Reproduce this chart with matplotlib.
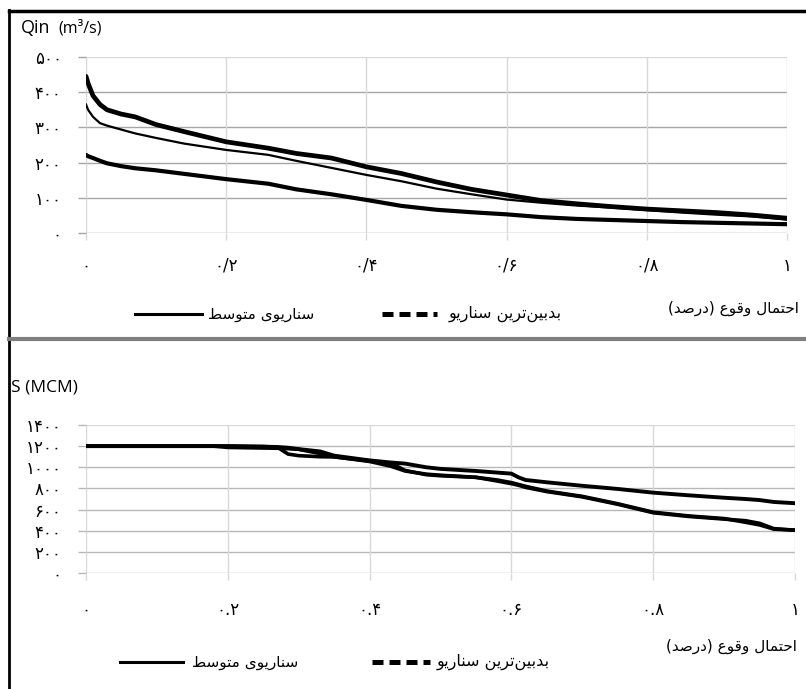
import matplotlib
matplotlib.use("Agg")
import matplotlib.pyplot as plt
from matplotlib.lines import Line2D

# ---------------- data ----------------
q_x = [0, 0.003, 0.01, 0.02, 0.03, 0.05, 0.07, 0.1, 0.14, 0.2, 0.26, 0.3, 0.35, 0.4,
       0.45, 0.5, 0.55, 0.6, 0.65, 0.7, 0.75, 0.8, 0.85, 0.9, 0.95, 1.0]
q_upper = [445, 425, 390, 365, 350, 338, 330, 308, 288, 259, 241, 226, 213, 188,
           169, 145, 124, 108, 92, 83, 75, 68, 63, 58, 51, 42]
q_middle = [365, 350, 330, 312, 305, 294, 283, 270, 254, 236, 222, 205, 185, 165,
            147, 126, 110, 95, 86, 78, 72, 65, 58, 52, 47, 38]
q_lower = [222, 218, 213, 205, 198, 190, 184, 178, 168, 153, 140, 124, 110, 94,
           77, 66, 59, 53, 45, 40, 37, 34, 31, 29, 27, 25]

s_x = [0, 0.18, 0.2, 0.25, 0.27, 0.285, 0.3, 0.33, 0.35, 0.4, 0.43, 0.45, 0.48, 0.5,
       0.55, 0.58, 0.6, 0.61, 0.62, 0.65, 0.7, 0.75, 0.8, 0.85, 0.9, 0.93, 0.95, 0.97, 1.0]
s_a = [1200, 1200, 1200, 1195, 1192, 1185, 1172, 1150, 1110, 1065, 1045, 1035, 1000, 985,
       965, 950, 940, 905, 880, 858, 825, 795, 760, 735, 712, 700, 690, 672, 660]
s_b = [1200, 1200, 1188, 1182, 1180, 1176, 1170, 1130, 1100, 1055, 1010, 965, 935, 925,
       905, 870, 845, 830, 810, 770, 720, 650, 570, 535, 510, 495, 470, 420, 405]
s_c = [1200, 1200, 1200, 1196, 1190, 1125, 1110, 1100, 1098, 1060, 1040, 970, 930, 920,
       905, 880, 855, 838, 820, 775, 725, 655, 575, 540, 515, 480, 455, 415, 405]

q_yticks = [0, 100, 200, 300, 400, 500]
q_ylabels = ['۰', '۱۰۰', '۲۰۰', '۳۰۰', '۴۰۰', '۵۰۰']
q_xticks = [0, 0.2, 0.4, 0.6, 0.8, 1.0]
q_xlabels = ['۰', '۰/۲', '۰/۴', '۰/۶', '۰/۸', '۱']
s_yticks = [0, 200, 400, 600, 800, 1000, 1200, 1400]
s_ylabels = ['۰', '۲۰۰', '۴۰۰', '۶۰۰', '۸۰۰', '۱۰۰۰', '۱۲۰۰', '۱۴۰۰']
s_xticks = [0, 0.2, 0.4, 0.6, 0.8, 1.0]
s_xlabels = ['۰', '۰.۲', '۰.۴', '۰.۶', '۰.۸', '۱']

label_avg = 'سناریوی متوسط'
label_worst = 'بدبین\u200cترین سناریو'
label_x = 'احتمال وقوع (درصد)'

# ---------------- minimal Persian shaping (matplotlib has no bidi) ----------------
FORMS = {
    'ا': ('\uFE8D', '\uFE8E', None, None),
    'ب': ('\uFE8F', '\uFE90', '\uFE91', '\uFE92'),
    'ت': ('\uFE95', '\uFE96', '\uFE97', '\uFE98'),
    'ح': ('\uFEA1', '\uFEA2', '\uFEA3', '\uFEA4'),
    'د': ('\uFEA9', '\uFEAA', None, None),
    'ر': ('\uFEAD', '\uFEAE', None, None),
    'س': ('\uFEB1', '\uFEB2', '\uFEB3', '\uFEB4'),
    'ص': ('\uFEB9', '\uFEBA', '\uFEBB', '\uFEBC'),
    'ط': ('\uFEC1', '\uFEC2', '\uFEC3', '\uFEC4'),
    'ع': ('\uFEC9', '\uFECA', '\uFECB', '\uFECC'),
    'ق': ('\uFED5', '\uFED6', '\uFED7', '\uFED8'),
    'ل': ('\uFEDD', '\uFEDE', '\uFEDF', '\uFEE0'),
    'م': ('\uFEE1', '\uFEE2', '\uFEE3', '\uFEE4'),
    'ن': ('\uFEE5', '\uFEE6', '\uFEE7', '\uFEE8'),
    'و': ('\uFEED', '\uFEEE', None, None),
    'ی': ('\uFBFC', '\uFBFD', '\uFBFE', '\uFBFF'),
}


def fa(s):
    out = []
    n = len(s)
    for i, ch in enumerate(s):
        if ch not in FORMS:
            out.append(ch)
            continue
        f = FORMS[ch]
        prev = s[i - 1] if i > 0 else None
        nxt = s[i + 1] if i < n - 1 else None
        jp = prev in FORMS and FORMS[prev][2] is not None
        jn = nxt in FORMS and f[2] is not None
        if jp and jn:
            out.append(f[3])
        elif jp:
            out.append(f[1])
        elif jn:
            out.append(f[2])
        else:
            out.append(f[0])
    vis = ''.join(out).replace('\u200c', '')[::-1]
    return vis.translate(str.maketrans('()', ')('))


# ---------------- figure ----------------
W, H = 806, 689
fig = plt.figure(figsize=(W / 100, H / 100), dpi=100)
FONT = 'DejaVu Sans'


def fx(px):
    return px / W


def fy(py):
    return 1 - py / H


def axes_px(l, r, t, b):
    return fig.add_axes([fx(l), fy(b), fx(r) - fx(l), fy(t) - fy(b)])


HGRID = '#a6a6a6'
VGRID = '#d9d9d9'


def style(ax, xt, xl, yt, yl, ymax, xpad, hcol):
    ax.set_xlim(0, 1)
    ax.set_ylim(0, ymax)
    for sp in ax.spines.values():
        sp.set_visible(False)
    ax.set_xticks(xt)
    ax.set_xticklabels(xl, fontsize=12, family=FONT)
    ax.set_yticks(yt)
    ax.set_yticklabels(yl, fontsize=12, family=FONT)
    ax.tick_params(axis='x', length=5, color=VGRID, pad=xpad, width=1)
    ax.tick_params(axis='y', length=5.5, color=hcol, pad=12, width=1)
    for v in yt:
        ax.axhline(v, color=hcol if v < ymax else VGRID, lw=1, zorder=0)
    for v in xt:
        ax.axvline(v, color=VGRID, lw=1, zorder=0)


# top panel
ax1 = axes_px(86, 787, 57, 233)
style(ax1, q_xticks, q_xlabels, q_yticks, q_ylabels, 500, 12, HGRID)
ax1.plot(q_x, q_upper, color='black', lw=3.4, solid_capstyle='round', solid_joinstyle='round')
ax1.plot(q_x, q_middle, color='black', lw=1.6, solid_joinstyle='round')
ax1.plot(q_x, q_lower, color='black', lw=3.0, solid_capstyle='round', solid_joinstyle='round')

# bottom panel
ax2 = axes_px(86, 795, 425, 573)
style(ax2, s_xticks, s_xlabels, s_yticks, s_ylabels, 1400, 15, '#b8b8b8')
ax2.plot(s_x, s_a, color='black', lw=2.8, solid_joinstyle='round')
ax2.plot(s_x, s_b, color='black', lw=2.6, solid_joinstyle='round')
ax2.plot(s_x, s_c, color='black', lw=2.6, solid_joinstyle='round')

# axis titles
fig.text(fx(21), fy(28), 'Qin', fontsize=13, family='Open Sans', va='center', ha='left')
fig.text(fx(58), fy(28), '(m³/s)', fontsize=11.5, family='Open Sans', va='center', ha='left')
fig.text(fx(11), fy(387), 'S (MCM)', fontsize=12.5, family='Open Sans', va='center', ha='left')


# legends (figure-level)
def legend_row(y_line, y_xlab, solid_x, dash_x, txt1_x, txt2_x, xlab_r):
    fig.add_artist(Line2D([fx(solid_x[0]), fx(solid_x[1])], [fy(y_line), fy(y_line)],
                          color='black', lw=2.2, transform=fig.transFigure))
    fig.add_artist(Line2D([fx(dash_x[0]), fx(dash_x[1])], [fy(y_line), fy(y_line)],
                          color='black', lw=3.6, linestyle=(0, (2.2, 1.2)),
                          transform=fig.transFigure))
    fig.text(fx(txt1_x), fy(y_line), fa(label_avg), fontsize=11, family=FONT,
             ha='left', va='center')
    fig.text(fx(txt2_x), fy(y_line), fa(label_worst), fontsize=11.5, family=FONT,
             ha='left', va='center')
    fig.text(fx(xlab_r), fy(y_xlab), fa(label_x), fontsize=11, family=FONT,
             ha='right', va='center')


legend_row(314, 308, (135, 202), (382, 437), 208, 449, 799)
legend_row(662, 646, (120, 183), (372, 430), 192, 437, 797)

# frame lines
fig.add_artist(Line2D([fx(9), fx(9)], [fy(10), fy(689)], color='black', lw=2,
                      transform=fig.transFigure))
fig.add_artist(Line2D([fx(9), fx(806)], [fy(11), fy(11)], color='black', lw=2.5,
                      transform=fig.transFigure))
fig.add_artist(Line2D([fx(9), fx(806)], [fy(339), fy(339)], color='#808080', lw=3,
                      transform=fig.transFigure))

fig.savefig('out.png', dpi=100)
